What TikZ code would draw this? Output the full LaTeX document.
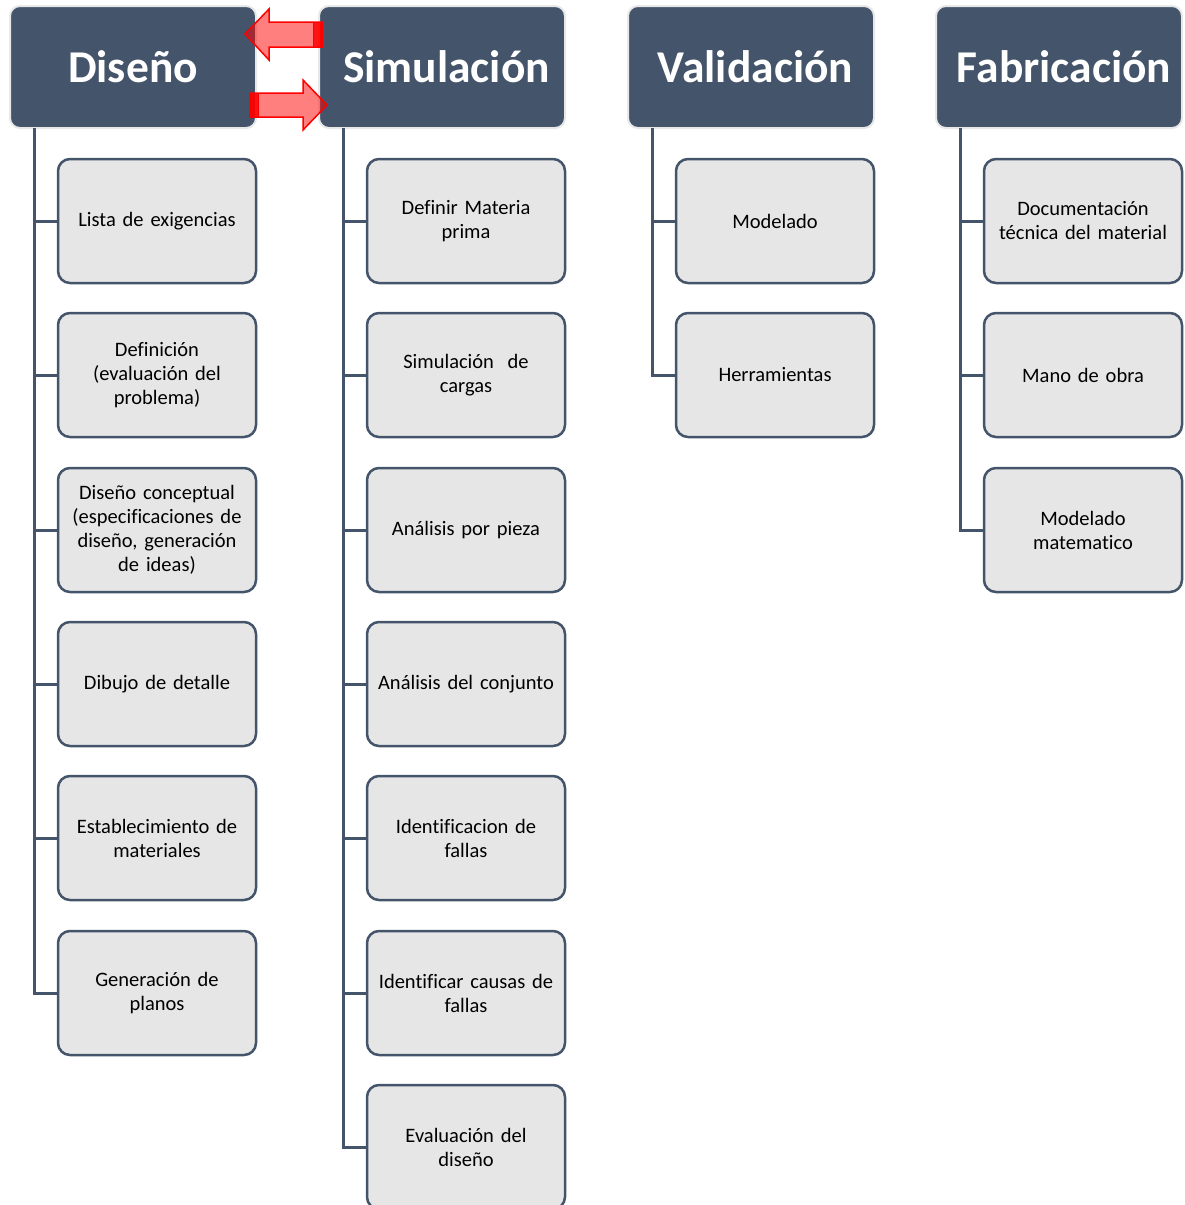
\documentclass[tikz,border=0pt]{standalone}
\usepackage{fontspec}
\setmainfont[Ligatures=NoCommon]{Carlito}
\definecolor{hdr}{HTML}{44546A}
\definecolor{cfill}{HTML}{E7E6E6}
\tikzset{
  hbox/.style={rectangle, rounded corners=10pt, fill=hdr, draw=gray!18, line width=2pt,
    minimum width=246pt, minimum height=122pt, text=white,
    font=\fontsize{45.5}{50}\selectfont\bfseries},
  cbox/.style={rectangle, rounded corners=12pt, fill=cfill, draw=hdr, line width=2.5pt,
    minimum width=198pt, minimum height=124pt, text width=184pt, align=center,
    font=\fontsize{20.5}{24}\selectfont},
  conn/.style={draw=hdr, line width=3pt},
  redarrow/.style={fill=red, fill opacity=0.5, draw=red, line width=1.5pt, line join=miter},
  band/.style={fill=red, fill opacity=0.85, draw=red, line width=1pt}
}
\begin{document}
\begin{tikzpicture}[x=1pt,y=-1pt]
\useasboundingbox (0,0) rectangle (1184,1205);
% headers
\node[hbox] (hD) at (133,67) {Diseño};
\node[hbox] (hS) at (442,67) {\hspace{9pt}Simulación};
\node[hbox] (hV) at (751,67) {\hspace{9pt}Validación};
\node[hbox] (hF) at (1059,67) {\hspace{10pt}Fabricación};
% trunk start coordinates
\coordinate (tD) at (34,128);
\coordinate (tS) at (343,128);
\coordinate (tV) at (652,128);
\coordinate (tF) at (960,128);
% Diseño children
\node[cbox] (d1) at (157,221) {Lista de exigencias};
\node[cbox] (d2) at (157,375) {Definición\\(evaluación del\\problema)};
\node[cbox] (d3) at (157,530) {Diseño conceptual\\(especificaciones de\\diseño, generación\\de ideas)};
\node[cbox] (d4) at (157,684) {Dibujo de detalle};
\node[cbox] (d5) at (157,838) {Establecimiento de\\materiales};
\node[cbox] (d6) at (157,993) {Generación de\\planos};
% Simulación children
\node[cbox] (s1) at (466,221) {Definir Materia\\prima};
\node[cbox] (s2) at (466,375) {Simulación\ \ de\\cargas};
\node[cbox] (s3) at (466,530) {Análisis por pieza};
\node[cbox] (s4) at (466,684) {Análisis del conjunto};
\node[cbox] (s5) at (466,838) {Identificacion de\\fallas};
\node[cbox] (s6) at (466,993) {Identificar causas de\\fallas};
\node[cbox] (s7) at (466,1147) {Evaluación del\\diseño};
% Validación children
\node[cbox] (v1) at (775,221) {Modelado};
\node[cbox] (v2) at (775,375) {Herramientas};
% Fabricación children
\node[cbox] (f1) at (1083,221) {Documentación\\técnica del material};
\node[cbox] (f2) at (1083,375) {Mano de obra};
\node[cbox] (f3) at (1083,530) {Modelado\\matematico};
% connectors
\draw[conn] (tD) |- (d6.west);
\foreach \n in {d1,d2,d3,d4,d5} \draw[conn] (\n.west) -- (\n.west -| tD);
\draw[conn] (tS) |- (s7.west);
\foreach \n in {s1,s2,s3,s4,s5,s6} \draw[conn] (\n.west) -- (\n.west -| tS);
\draw[conn] (tV) |- (v2.west);
\draw[conn] (v1.west) -- (v1.west -| tV);
\draw[conn] (tF) |- (f3.west);
\foreach \n in {f1,f2} \draw[conn] (\n.west) -- (\n.west -| tF);
% red arrows
\draw[redarrow] (245,34) -- (269,9) -- (269,22) -- (322,22) -- (322,47) -- (269,47) -- (269,60) -- cycle;
\draw[band] (313,22) rectangle (322,47);
\draw[redarrow] (327,105) -- (303,80) -- (303,93) -- (250,93) -- (250,117) -- (303,117) -- (303,130) -- cycle;
\draw[band] (250,93) rectangle (258,117);
\end{tikzpicture}
\end{document}
